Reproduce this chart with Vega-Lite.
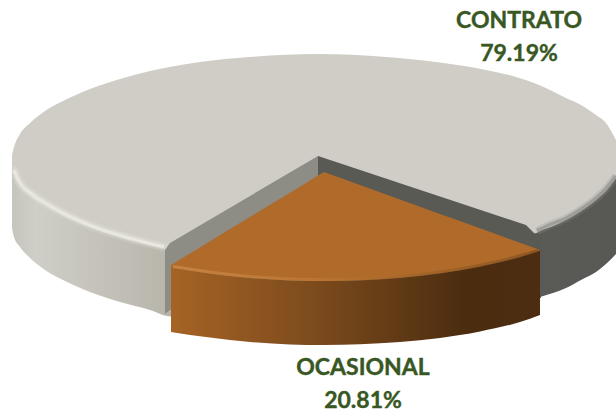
{
"$schema":"https://vega.github.io/schema/vega-lite/v6.json",
"width":616,"height":415,"padding":0,"autosize":{"type":"none"},
"background":"white",
"config":{"view":{"stroke":null}},
"data":{"values":[
{"part":"drum","x":12,"y":165,"y2":228},{"part":"drum","x":14,"y":175,"y2":237},{"part":"drum","x":20,"y":185,"y2":247},{"part":"drum","x":30,"y":195,"y2":258},{"part":"drum","x":45,"y":205,"y2":270},{"part":"drum","x":65,"y":216,"y2":281},{"part":"drum","x":90,"y":227,"y2":292},{"part":"drum","x":120,"y":237,"y2":302},{"part":"drum","x":150,"y":245,"y2":310},{"part":"drum","x":167,"y":249,"y2":316},{"part":"drum","x":300,"y":262,"y2":327},{"part":"drum","x":486,"y":245,"y2":310},{"part":"drum","x":516,"y":240,"y2":305},{"part":"drum","x":540,"y":231,"y2":297},{"part":"drum","x":566,"y":220,"y2":288},{"part":"drum","x":581,"y":211,"y2":280},{"part":"drum","x":596,"y":200,"y2":272},{"part":"drum","x":606,"y":191,"y2":264},{"part":"drum","x":616,"y":178,"y2":254},
{"part":"top","x":12,"y":155,"y2":167},{"part":"top","x":14,"y":147,"y2":176},{"part":"top","x":20,"y":134,"y2":186},{"part":"top","x":30,"y":123,"y2":195},{"part":"top","x":45,"y":111,"y2":205},{"part":"top","x":65,"y":100,"y2":216},{"part":"top","x":90,"y":89,"y2":227},{"part":"top","x":120,"y":79,"y2":237},{"part":"top","x":150,"y":71,"y2":245},{"part":"top","x":167,"y":67.5,"y2":249},{"part":"top","x":200,"y":62,"y2":254},{"part":"top","x":250,"y":57,"y2":259},{"part":"top","x":318,"y":54,"y2":262},{"part":"top","x":386,"y":57,"y2":259},{"part":"top","x":436,"y":62,"y2":254},{"part":"top","x":486,"y":70,"y2":245},{"part":"top","x":516,"y":77,"y2":240},{"part":"top","x":534,"y":83,"y2":234},{"part":"top","x":550,"y":90,"y2":226},{"part":"top","x":566,"y":98,"y2":220},{"part":"top","x":581,"y":105,"y2":211},{"part":"top","x":596,"y":115,"y2":200},{"part":"top","x":606,"y":123,"y2":191},{"part":"top","x":616,"y":140,"y2":178},
{"part":"wallL","x":165,"y":250,"y2":314},{"part":"wallL","x":170,"y":243,"y2":310},{"part":"wallL","x":318,"y":156,"y2":221},
{"part":"wallR","x":318,"y":156,"y2":221},{"part":"wallR","x":526,"y":225,"y2":296},{"part":"wallR","x":534,"y":233,"y2":298},{"part":"wallR","x":541,"y":236,"y2":298},
{"part":"browntop","x":171,"y":265,"y2":267},{"part":"browntop","x":190,"y":253.5,"y2":270.5},{"part":"browntop","x":210,"y":241.3,"y2":273.5},{"part":"browntop","x":230,"y":229.1,"y2":276},{"part":"browntop","x":250,"y":217,"y2":278},{"part":"browntop","x":270,"y":204.8,"y2":279.4},{"part":"browntop","x":290,"y":192.7,"y2":280.4},{"part":"browntop","x":310,"y":180.5,"y2":280.9},{"part":"browntop","x":324,"y":172,"y2":281},{"part":"browntop","x":340,"y":177.8,"y2":280.9},{"part":"browntop","x":360,"y":185,"y2":280.3},{"part":"browntop","x":380,"y":192.2,"y2":279.2},{"part":"browntop","x":400,"y":199.4,"y2":277.8},{"part":"browntop","x":420,"y":206.7,"y2":275.7},{"part":"browntop","x":440,"y":213.9,"y2":273.2},{"part":"browntop","x":460,"y":221.1,"y2":270.2},{"part":"browntop","x":480,"y":228.3,"y2":266.5},{"part":"browntop","x":500,"y":235.6,"y2":262},{"part":"browntop","x":520,"y":242.8,"y2":257},{"part":"browntop","x":540,"y":250,"y2":250.6},
{"part":"brownfront","x":171,"y":267,"y2":332},{"part":"brownfront","x":190,"y":270.5,"y2":335},{"part":"brownfront","x":210,"y":273.5,"y2":337.5},{"part":"brownfront","x":250,"y":278,"y2":342},{"part":"brownfront","x":290,"y":280.4,"y2":344.4},{"part":"brownfront","x":324,"y":281,"y2":345},{"part":"brownfront","x":360,"y":280.3,"y2":344.3},{"part":"brownfront","x":400,"y":277.8,"y2":342},{"part":"brownfront","x":440,"y":273.2,"y2":338},{"part":"brownfront","x":480,"y":266.5,"y2":331.5},{"part":"brownfront","x":520,"y":257,"y2":322},{"part":"brownfront","x":540,"y":250.6,"y2":315},
{"part":"rimL","x":14,"y":170},{"part":"rimL","x":20,"y":183},{"part":"rimL","x":32,"y":194},{"part":"rimL","x":47,"y":204},{"part":"rimL","x":67,"y":215},{"part":"rimL","x":92,"y":226},{"part":"rimL","x":122,"y":236},{"part":"rimL","x":150,"y":243.5},{"part":"rimL","x":164,"y":247},
{"part":"rimR","x":537,"y":231},{"part":"rimR","x":550,"y":225},{"part":"rimR","x":566,"y":218.5},{"part":"rimR","x":581,"y":209.5},{"part":"rimR","x":596,"y":198.5},{"part":"rimR","x":606,"y":189},{"part":"rimR","x":616,"y":176},
{"part":"rimB","x":173,"y":266.5},{"part":"rimB","x":210,"y":272},{"part":"rimB","x":250,"y":276.5},{"part":"rimB","x":290,"y":279},{"part":"rimB","x":324,"y":279.6},{"part":"rimB","x":360,"y":279},{"part":"rimB","x":400,"y":276.5},{"part":"rimB","x":440,"y":272},{"part":"rimB","x":480,"y":265.2},{"part":"rimB","x":520,"y":255.8},{"part":"rimB","x":538,"y":250.5},
{"part":"label","x":519,"y":28,"text":"CONTRATO"},{"part":"label","x":519,"y":61,"text":"79.19%"},{"part":"label","x":363,"y":375,"text":"OCASIONAL"},{"part":"label","x":363,"y":408,"text":"20.81%"}
]},
"encoding":{
"x":{"field":"x","type":"quantitative","scale":{"domain":[0,616],"nice":false,"zero":false},"axis":null},
"y":{"field":"y","type":"quantitative","scale":{"domain":[415,0],"nice":false,"zero":false},"axis":null}
},
"layer":[
{"transform":[{"filter":"datum.part==='drum'"}],"mark":{"type":"area","interpolate":"monotone","fill":{"gradient":"linear","x1":0,"x2":1,"y1":0,"y2":0,"stops":[{"offset":0,"color":"#c6c5bd"},{"offset":0.04,"color":"#cfcec7"},{"offset":0.26,"color":"#b8b5ab"},{"offset":0.3,"color":"#8d8c85"},{"offset":0.87,"color":"#5a5a56"},{"offset":1,"color":"#585854"}]}},"encoding":{"y2":{"field":"y2"}}},
{"transform":[{"filter":"datum.part==='top'"}],"mark":{"type":"area","interpolate":"monotone","fill":"#cfcdc6"},"encoding":{"y2":{"field":"y2"}}},
{"transform":[{"filter":"datum.part==='rimL'"}],"mark":{"type":"line","interpolate":"monotone","stroke":"#f2f1e8","strokeWidth":9,"opacity":0.18,"strokeCap":"round"}},
{"transform":[{"filter":"datum.part==='rimL'"}],"mark":{"type":"line","interpolate":"monotone","stroke":"#f2f1e8","strokeWidth":5,"opacity":0.35}},
{"transform":[{"filter":"datum.part==='rimL'"}],"mark":{"type":"line","interpolate":"monotone","stroke":"#f4f3ea","strokeWidth":2,"opacity":0.55}},
{"transform":[{"filter":"datum.part==='rimR'"}],"mark":{"type":"line","interpolate":"monotone","stroke":"#8f8f8a","strokeWidth":8,"opacity":0.25}},
{"transform":[{"filter":"datum.part==='rimR'"}],"mark":{"type":"line","interpolate":"monotone","stroke":"#777773","strokeWidth":4,"opacity":0.45}},
{"transform":[{"filter":"datum.part==='wallL'"}],"mark":{"type":"area","fill":"#8d8c85"},"encoding":{"y2":{"field":"y2"}}},
{"transform":[{"filter":"datum.part==='wallR'"}],"mark":{"type":"area","fill":"#5a5a55"},"encoding":{"y2":{"field":"y2"}}},
{"transform":[{"filter":"datum.part==='browntop'"}],"mark":{"type":"area","fill":"#b06a2a"},"encoding":{"y2":{"field":"y2"}}},
{"transform":[{"filter":"datum.part==='brownfront'"}],"mark":{"type":"area","interpolate":"monotone","fill":{"gradient":"linear","x1":0,"x2":1,"y1":0,"y2":0,"stops":[{"offset":0,"color":"#a66325"},{"offset":0.4,"color":"#7b4a1c"},{"offset":0.8,"color":"#4b2c0f"},{"offset":1,"color":"#4c2d11"}]}},"encoding":{"y2":{"field":"y2"}}},
{"transform":[{"filter":"datum.part==='rimB'"}],"mark":{"type":"line","interpolate":"monotone","strokeWidth":3,"opacity":0.6,"stroke":{"gradient":"linear","x1":0,"x2":1,"y1":0,"y2":0,"stops":[{"offset":0,"color":"#d6924f"},{"offset":0.4,"color":"#c07c38"},{"offset":0.7,"color":"#9a5f25"},{"offset":1,"color":"#7a4a1c"}]}}},
{"transform":[{"filter":"datum.part==='label'"}],"mark":{"type":"text","font":"Lato","fontWeight":"bold","fontSize":23,"color":"#385723","stroke":"#385723","strokeWidth":0.4,"align":"center","baseline":"alphabetic"},"encoding":{"text":{"field":"text"}}}
]
}
